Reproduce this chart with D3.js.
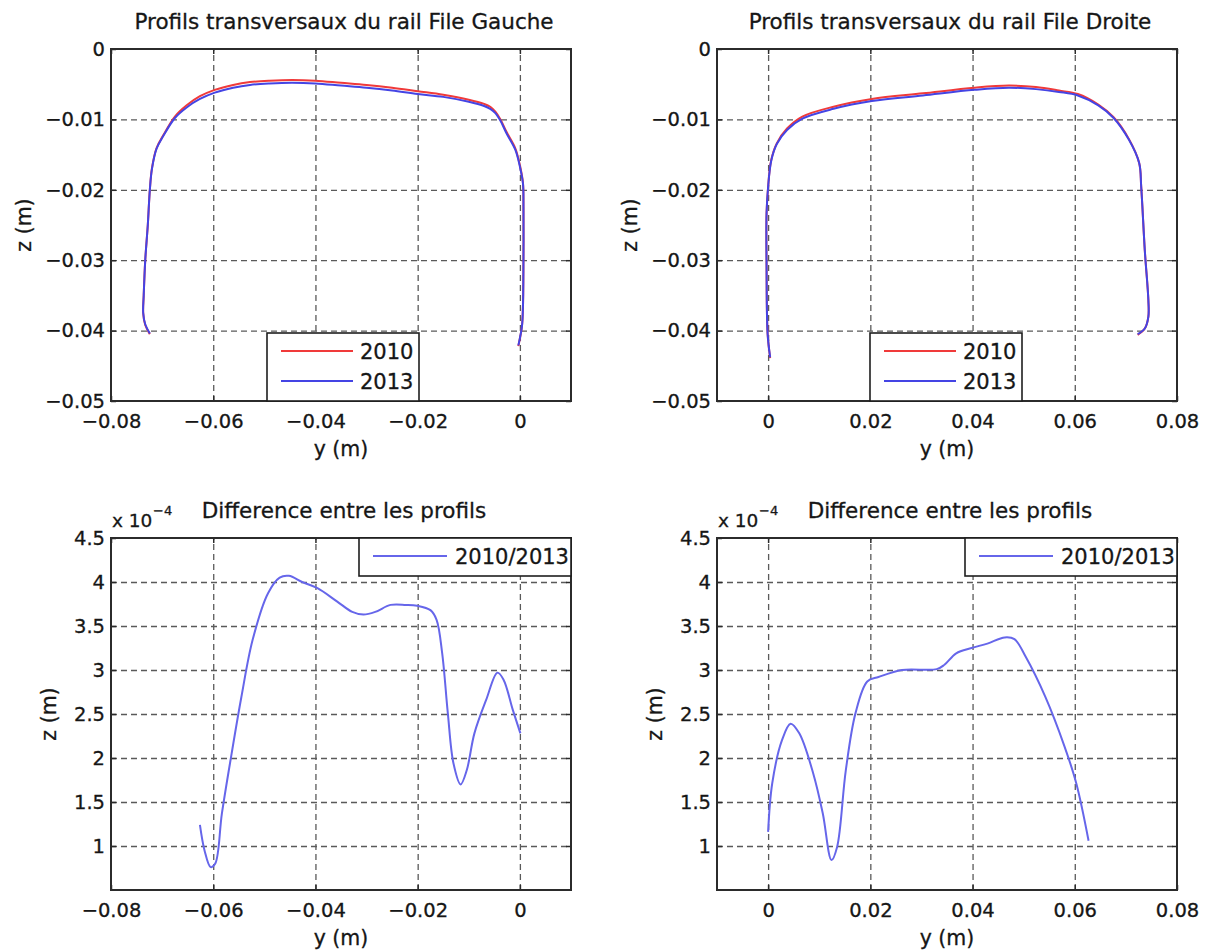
<!DOCTYPE html>
<meta charset="utf-8">
<style>
body { margin: 0; background: #fff; }
svg text { font-family: "DejaVu Sans", sans-serif; fill: #161616; stroke: #161616; stroke-width: 0.3; }
.axis text { font-size: 19.5px; }
.axis path { display: none; }
.axis line { stroke: #2b2b2b; stroke-width: 1.5; }
.grid path { display: none; }
.grid line { stroke: #5a5a5a; stroke-width: 1.3; stroke-dasharray: 6,4; }
.axis-label { font-size: 20.5px; }
.title { font-size: 21.5px; }
.legend text { font-size: 21px; }
.legend rect { fill: #fff; stroke: #1e1e1e; stroke-width: 1.6; }
.frame { fill: none; stroke: #2b2b2b; stroke-width: 2; }
.curve { fill: none; stroke-width: 2; stroke-linejoin: round; }
</style>
<svg width="1207" height="951"></svg>
<script src="https://d3js.org/d3.v7.min.js"></script>
<script>

// rail File Gauche, y (m) and z (m) for both years
var gaucheY = [-0.0724, -0.0733, -0.0737, -0.0736, -0.0733, -0.0728, -0.0724, -0.0720, -0.0711, -0.0698,
               -0.0675, -0.0652, -0.0626, -0.0597, -0.0561, -0.0528, -0.0490, -0.0446, -0.0400, -0.0350,
               -0.0300, -0.0250, -0.0200, -0.0150, -0.0100, -0.0070, -0.0058, -0.0048, -0.0038, -0.0026,
               -0.0009, 0.0000, 0.0006, 0.0007, 0.0007, 0.0006, 0.0004, -0.0003];
var gaucheZ2010 = [-0.0405, -0.0392, -0.0375, -0.0350, -0.0300, -0.0250, -0.0200, -0.0170, -0.0141, -0.0123,
                   -0.0096, -0.0080, -0.0067, -0.0058, -0.0051, -0.0047, -0.0045, -0.0044, -0.0045, -0.0048,
                   -0.0051, -0.0055, -0.0060, -0.0065, -0.0072, -0.0078, -0.0082, -0.0089, -0.0100, -0.0118,
                   -0.0141, -0.0165, -0.0190, -0.0224, -0.0295, -0.0366, -0.0394, -0.0422];
var gaucheZ2013 = [-0.0404, -0.0391, -0.0375, -0.0350, -0.0300, -0.0250, -0.0200, -0.0171, -0.0142, -0.0124,
                   -0.0098, -0.0083, -0.0071, -0.0062, -0.0055, -0.0051, -0.0049, -0.0048, -0.0049, -0.0052,
                   -0.0055, -0.0059, -0.0064, -0.0068, -0.0075, -0.0081, -0.0085, -0.0091, -0.0102, -0.0120,
                   -0.0143, -0.0167, -0.0191, -0.0224, -0.0295, -0.0366, -0.0394, -0.0421];

// rail File Droite
var droiteY = [0.0004, -0.0001, -0.0003, -0.0003, 0.0000, 0.0006, 0.0017, 0.0037, 0.0067, 0.0128,
               0.0203, 0.0303, 0.0404, 0.0471, 0.0524, 0.0569, 0.0606, 0.0646, 0.0676, 0.0706,
               0.0726, 0.0730, 0.0737, 0.0744, 0.0744, 0.0737, 0.0723];
var droiteZ2010 = [-0.0439, -0.0404, -0.0309, -0.0233, -0.0196, -0.0158, -0.0134, -0.0113, -0.0096, -0.0082,
                   -0.0071, -0.0063, -0.0055, -0.0052, -0.0054, -0.0059, -0.0064, -0.0079, -0.0097, -0.0128,
                   -0.0162, -0.0196, -0.0286, -0.0357, -0.0380, -0.0397, -0.0406];
var droiteZ2013 = [-0.0438, -0.0404, -0.0309, -0.0233, -0.0196, -0.0159, -0.0135, -0.0115, -0.0099, -0.0085,
                   -0.0074, -0.0066, -0.0058, -0.0055, -0.0057, -0.0061, -0.0066, -0.0080, -0.0098, -0.0129,
                   -0.0162, -0.0196, -0.0286, -0.0357, -0.0380, -0.0397, -0.0405];

// difference 2010/2013, z in units of 1e-4 m
var diffGaucheY = [-0.0626, -0.0617, -0.0605, -0.0596, -0.0583, -0.0564, -0.0545, -0.0523, -0.0493, -0.0470,
                   -0.0452, -0.0426, -0.0396, -0.0358, -0.0328, -0.0306, -0.0283, -0.0253, -0.0223, -0.0201,
                   -0.0175, -0.0163, -0.0152, -0.0141, -0.0130, -0.0116, -0.0104, -0.0089, -0.0066, -0.0044,
                   -0.0032, -0.0014, 0.0001];
var diffGaucheZ = [1.24, 0.95, 0.76, 0.80, 1.37, 2.05, 2.69, 3.34, 3.87, 4.05,
                   4.07, 4.00, 3.93, 3.78, 3.66, 3.63, 3.66, 3.74, 3.74, 3.73,
                   3.68, 3.57, 3.19, 2.51, 1.94, 1.70, 1.86, 2.28, 2.66, 2.97,
                   2.89, 2.55, 2.28];

var diffDroiteY = [0.0000, 0.0008, 0.0027, 0.0044, 0.0061, 0.0088, 0.0107, 0.0124, 0.0135, 0.0152,
                   0.0171, 0.0194, 0.0216, 0.0262, 0.0330, 0.0345, 0.0368, 0.0398, 0.0429, 0.0463,
                   0.0482, 0.0504, 0.0542, 0.0580, 0.0603, 0.0627];
var diffDroiteZ = [1.16, 1.71, 2.20, 2.39, 2.28, 1.83, 1.37, 0.84, 0.99, 1.86,
                   2.51, 2.87, 2.92, 3.00, 3.01, 3.06, 3.19, 3.25, 3.30, 3.37,
                   3.35, 3.15, 2.70, 2.13, 1.71, 1.06];

var xTicksGauche = [-0.08, -0.06, -0.04, -0.02, 0];
var xTicksDroite = [0, 0.02, 0.04, 0.06, 0.08];
var zTicksProfil = [0, -0.01, -0.02, -0.03, -0.04, -0.05];
var zTicksDiff = [1, 1.5, 2, 2.5, 3, 3.5, 4, 4.5];

var years = ["2010", "2013"];
var diffName = "2010/2013";
var colors = {"2010": "#f03a3a", "2013": "#4444e4", diff: "#6666ea"};

var svg = d3.select("svg");

var fmtM = function(d) { return d === 0 ? "0" : d3.format(".2f")(d); };
var fmtDiff = function(d) { return String(d); };

function panel(p) {
  var x = d3.scaleLinear().domain(p.xDomain).range([p.left, p.right]),
      y = d3.scaleLinear().domain(p.yDomain).range([p.bottom, p.top]),
      h = p.bottom - p.top,
      w = p.right - p.left;

  var g = svg.append("g");

  // dashed grid, inner ticks only
  var xIn = p.xTicks.filter(function(d) { return x(d) > p.left + 1 && x(d) < p.right - 1; }),
      yIn = p.yTicks.filter(function(d) { return y(d) > p.top + 1 && y(d) < p.bottom - 1; });

  g.append("g")
      .attr("class", "grid")
      .attr("transform", "translate(0," + p.bottom + ")")
      .call(d3.axisBottom(x).tickValues(xIn).tickSize(-h).tickFormat(""));

  g.append("g")
      .attr("class", "grid")
      .attr("transform", "translate(" + p.left + ",0)")
      .call(d3.axisLeft(y).tickValues(yIn).tickSize(-w).tickFormat(""));

  // curves
  var line = d3.line()
      .x(function(d) { return x(d[0]); })
      .y(function(d) { return y(d[1]); })
      .curve(d3.curveCatmullRom.alpha(0.5));

  p.series.forEach(function(s) {
    g.append("path")
        .attr("class", "curve")
        .attr("stroke", s.color)
        .attr("d", line(d3.zip(s.xs, s.zs)));
  });

  // axes with inward ticks
  g.append("g")
      .attr("class", "axis")
      .attr("transform", "translate(0," + p.bottom + ")")
      .call(d3.axisBottom(x).tickValues(p.xTicks).tickSizeInner(-5).tickSizeOuter(0).tickFormat(fmtM))
      .selectAll("text").attr("dy", "0.71em").attr("y", 13);

  g.append("g")
      .attr("class", "axis")
      .attr("transform", "translate(0," + p.top + ")")
      .call(d3.axisTop(x).tickValues(p.xTicks).tickSizeInner(-5).tickSizeOuter(0).tickFormat(""));

  g.append("g")
      .attr("class", "axis")
      .attr("transform", "translate(" + p.left + ",0)")
      .call(d3.axisLeft(y).tickValues(p.yTicks).tickSizeInner(-5).tickSizeOuter(0).tickFormat(p.yFormat))
      .selectAll("text").attr("x", -6);

  g.append("g")
      .attr("class", "axis")
      .attr("transform", "translate(" + p.right + ",0)")
      .call(d3.axisRight(y).tickValues(p.yTicks).tickSizeInner(-5).tickSizeOuter(0).tickFormat(""));

  g.append("rect")
      .attr("class", "frame")
      .attr("x", p.left)
      .attr("y", p.top)
      .attr("width", w)
      .attr("height", h);

  // legend
  var lg = g.append("g")
      .attr("class", "legend")
      .attr("transform", "translate(" + p.legend.x + "," + p.legend.y + ")");

  lg.append("rect")
      .attr("width", p.legend.w)
      .attr("height", p.legend.h);

  var row = lg.selectAll("g.row")
      .data(p.series)
    .enter().append("g")
      .attr("class", "row")
      .attr("transform", function(d, i) { return "translate(0," + (p.legend.row0 + i * 30) + ")"; });

  row.append("line")
      .attr("x1", p.legend.x1)
      .attr("x2", p.legend.x2)
      .attr("stroke", function(d) { return d.color; })
      .attr("stroke-width", 2);

  row.append("text")
      .attr("x", p.legend.tx)
      .attr("dy", "0.36em")
      .text(function(d) { return d.name; });

  // labels
  svg.append("text")
      .attr("class", "title")
      .attr("x", (p.left + p.right) / 2 + 3)
      .attr("y", p.top - 20)
      .attr("text-anchor", "middle")
      .text(p.title);

  svg.append("text")
      .attr("class", "axis-label")
      .attr("x", (p.left + p.right) / 2)
      .attr("y", p.bottom + 55)
      .attr("text-anchor", "middle")
      .text("y (m)");

  svg.append("text")
      .attr("class", "axis-label")
      .attr("transform", "translate(" + (p.left - p.zLabelOffset) + "," + (p.top + h / 2) + ") rotate(-90)")
      .attr("text-anchor", "middle")
      .attr("dy", "0.35em")
      .text("z (m)");

  if (p.exponent) {
    svg.append("text")
        .attr("x", p.left + 1)
        .attr("y", p.top - 11)
        .style("font-size", "18.5px")
        .text("x 10");
    svg.append("text")
        .attr("x", p.left + 42)
        .attr("y", p.top - 23)
        .style("font-size", "13px")
        .text(p.exponent);
  }
}

var topRow = {top: 49, bottom: 401},
    botRow = {top: 538, bottom: 890};

panel({
  left: 111, right: 571, top: topRow.top, bottom: topRow.bottom,
  xDomain: [-0.08, 0.01], yDomain: [-0.05, 0],
  xTicks: xTicksGauche, yTicks: zTicksProfil, yFormat: fmtM,
  title: "Profils transversaux du rail File Gauche",
  zLabelOffset: 87,
  series: [
    {name: years[0], color: colors["2010"], xs: gaucheY, zs: gaucheZ2010},
    {name: years[1], color: colors["2013"], xs: gaucheY, zs: gaucheZ2013}
  ],
  legend: {x: 267, y: 333, w: 152, h: 68, row0: 18, x1: 14, x2: 86, tx: 93}
});

panel({
  left: 717, right: 1177, top: topRow.top, bottom: topRow.bottom,
  xDomain: [-0.01, 0.08], yDomain: [-0.05, 0],
  xTicks: xTicksDroite, yTicks: zTicksProfil, yFormat: fmtM,
  title: "Profils transversaux du rail File Droite",
  zLabelOffset: 87,
  series: [
    {name: years[0], color: colors["2010"], xs: droiteY, zs: droiteZ2010},
    {name: years[1], color: colors["2013"], xs: droiteY, zs: droiteZ2013}
  ],
  legend: {x: 870, y: 333, w: 152, h: 68, row0: 18, x1: 14, x2: 86, tx: 93}
});

panel({
  left: 111, right: 571, top: botRow.top, bottom: botRow.bottom,
  xDomain: [-0.08, 0.01], yDomain: [0.5, 4.5],
  xTicks: xTicksGauche, yTicks: zTicksDiff, yFormat: fmtDiff,
  title: "Difference entre les profils",
  zLabelOffset: 62,
  exponent: "\u22124",
  series: [{name: diffName, color: colors.diff, xs: diffGaucheY, zs: diffGaucheZ}],
  legend: {x: 359, y: 538, w: 212, h: 38, row0: 18, x1: 14, x2: 88, tx: 96}
});

panel({
  left: 717, right: 1177, top: botRow.top, bottom: botRow.bottom,
  xDomain: [-0.01, 0.08], yDomain: [0.5, 4.5],
  xTicks: xTicksDroite, yTicks: zTicksDiff, yFormat: fmtDiff,
  title: "Difference entre les profils",
  zLabelOffset: 62,
  exponent: "\u22124",
  series: [{name: diffName, color: colors.diff, xs: diffDroiteY, zs: diffDroiteZ}],
  legend: {x: 965, y: 538, w: 212, h: 38, row0: 18, x1: 14, x2: 88, tx: 96}
});

</script>
